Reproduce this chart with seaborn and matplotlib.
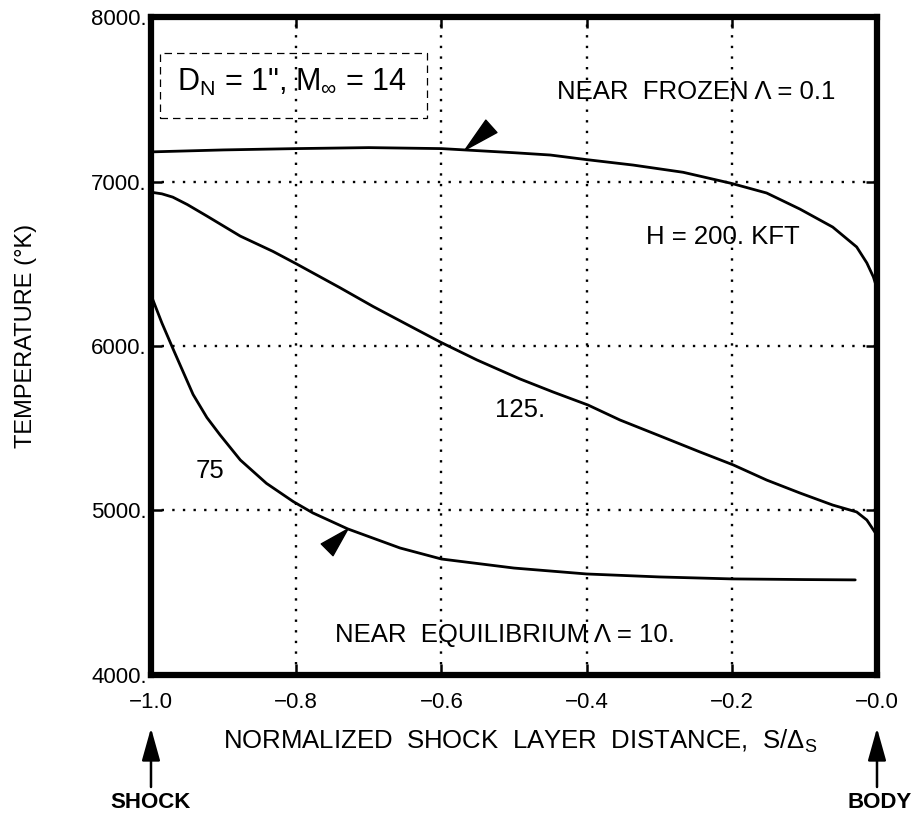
import numpy as np
import pandas as pd
import matplotlib
matplotlib.use("Agg")
import matplotlib.pyplot as plt
import seaborn as sns
from matplotlib.patches import Rectangle

# ---- data ----
s_200 = [-1.0, -0.9, -0.8, -0.7, -0.6, -0.5, -0.45, -0.4, -0.336, -0.267, -0.2,
         -0.152, -0.106, -0.061, -0.028, -0.014, -0.005, 0.0]
T_200 = [7180, 7192, 7200, 7206, 7200, 7175, 7161, 7133, 7100, 7056, 6988,
         6930, 6832, 6723, 6602, 6505, 6420, 6350]

s_125 = [-1.0, -0.985, -0.97, -0.95, -0.923, -0.877, -0.832, -0.8, -0.74, -0.694,
         -0.647, -0.602, -0.551, -0.492, -0.446, -0.398, -0.354, -0.3, -0.244,
         -0.198, -0.152, -0.106, -0.061, -0.028, -0.014, -0.003, 0.0]
T_125 = [6935, 6925, 6905, 6860, 6790, 6668, 6575, 6500, 6355, 6240,
         6130, 6025, 5915, 5800, 5720, 5641, 5550, 5455, 5356,
         5277, 5185, 5106, 5033, 4991, 4942, 4869, 4850]

s_75 = [-1.0, -0.985, -0.969, -0.942, -0.923, -0.905, -0.877, -0.841, -0.804,
        -0.777, -0.729, -0.657, -0.6, -0.5, -0.4, -0.3, -0.2, -0.1, -0.03]
T_75 = [6310, 6140, 5976, 5705, 5565, 5460, 5307, 5165, 5054,
        4985, 4888, 4772, 4705, 4650, 4614, 4596, 4584, 4580, 4578]

x_ticks = [-1.0, -0.8, -0.6, -0.4, -0.2, 0.0]
x_tick_labels = ["\u22121.0", "\u22120.8", "\u22120.6", "\u22120.4", "\u22120.2", "\u22120.0"]
y_ticks = [4000, 5000, 6000, 7000, 8000]
y_tick_labels = ["4000.", "5000.", "6000.", "7000.", "8000."]

# ---- style ----
sns.set_theme(style="ticks")
plt.rcParams["font.family"] = ["Liberation Sans", "DejaVu Sans"]
plt.rcParams["mathtext.fontset"] = "custom"
plt.rcParams["mathtext.rm"] = "Liberation Sans"
plt.rcParams["mathtext.it"] = "Liberation Sans:italic"
plt.rcParams["mathtext.bf"] = "Liberation Sans:bold"
for k in ["text.color", "axes.labelcolor", "xtick.color", "ytick.color",
          "axes.edgecolor"]:
    plt.rcParams[k] = "black"

fig = plt.figure(figsize=(9.19, 8.14), dpi=100)
ax = fig.add_axes([0.1643, 0.1708, 0.79, 0.8083])

df = pd.concat([
    pd.DataFrame({"s": s_200, "T": T_200, "alt": "200"}),
    pd.DataFrame({"s": s_125, "T": T_125, "alt": "125"}),
    pd.DataFrame({"s": s_75, "T": T_75, "alt": "75"}),
])
for alt, g in df.groupby("alt", sort=False):
    sns.lineplot(data=g, x="s", y="T", ax=ax, color="black", lw=2.0,
                 estimator=None, sort=False, legend=False)

ax.set_xlim(-1.0, 0.0)
ax.set_ylim(4000, 8000)
ax.set_xticks(x_ticks)
ax.set_xticklabels(x_tick_labels)
ax.set_yticks(y_ticks)
ax.set_yticklabels(y_tick_labels)
ax.grid(True, color="black", linestyle=(0, (1, 3.5)), linewidth=1.7)
for sp in ax.spines.values():
    sp.set_linewidth(4.5)
    sp.set_color("black")
    sp.set_visible(True)
ax.tick_params(axis="both", direction="in", length=8, width=1.8,
               top=True, right=True, color="black", labelsize=16)
ax.tick_params(axis="x", pad=12)
ax.tick_params(axis="y", pad=3)

ax.set_xlabel("NORMALIZED  SHOCK  LAYER  DISTANCE,  S/Δ$_\\mathregular{S}$",
              fontsize=18.5)
ax.xaxis.set_label_coords(0.508, -0.080)
ax.set_ylabel("TEMPERATURE (°K)", fontsize=17)
ax.yaxis.set_label_coords(-0.157, 0.515)

# labels inside the plot
fs = 18.5
ax.text(-0.4408, 7544, "NEAR  FROZEN Λ = 0.1", fontsize=fs, ha="left", va="center")
ax.text(-0.318, 6660, "H = 200. KFT", fontsize=fs, ha="left", va="center")
ax.text(-0.526, 5611, "125.", fontsize=fs, ha="left", va="center")
ax.text(-0.939, 5240, "75", fontsize=fs, ha="left", va="center")
ax.text(-0.7466, 4243, "NEAR  EQUILIBRIUM Λ = 10.", fontsize=fs, ha="left", va="center")

# dashed box with condition text
ax.add_patch(Rectangle((0.0124, 0.8465), 0.3676, 0.0985, transform=ax.transAxes,
                       fill=False, ec="black", lw=0.9, ls=(0, (6, 4)), zorder=3))
ax.text(0.194, 0.9012, "D$_\\mathregular{N}$ = 1\", M$_\\mathregular{∞}$ = 14",
        transform=ax.transAxes, fontsize=22, ha="center", va="center")

# wedge markers on the curves
x_top = -0.5675
ax.annotate("", xy=(x_top, np.interp(x_top, s_200, T_200)), xycoords="data",
            xytext=(19, 17), textcoords="offset points",
            arrowprops=dict(arrowstyle="wedge,tail_width=0.6", fc="black",
                            ec="black", shrinkA=0, shrinkB=0, mutation_scale=20))
x_bot = -0.7287
ax.annotate("", xy=(x_bot, np.interp(x_bot, s_75, T_75)), xycoords="data",
            xytext=(-15, -15), textcoords="offset points",
            arrowprops=dict(arrowstyle="wedge,tail_width=0.6", fc="black",
                            ec="black", shrinkA=0, shrinkB=0, mutation_scale=20))

# SHOCK / BODY arrows below the axis
for xv, lab in [(-1.0, "SHOCK"), (0.0, "BODY")]:
    xoff = 0 if xv < -0.5 else 3
    ax.annotate("", xy=(xv, 86), xycoords=("data", "figure pixels"),
                xytext=(xv, 27), textcoords=("data", "figure pixels"),
                arrowprops=dict(arrowstyle="-|>,head_length=1.0,head_width=0.28",
                                fc="black", ec="black", lw=1.8,
                                shrinkA=0, shrinkB=0, mutation_scale=20),
                annotation_clip=False)
    ax.annotate(lab, xy=(xv, 12), xycoords=("data", "figure pixels"),
                xytext=(xoff, 0), textcoords="offset pixels",
                ha="center", va="center", fontsize=16, fontweight="bold",
                annotation_clip=False)

fig.savefig("out.png", dpi=100)
